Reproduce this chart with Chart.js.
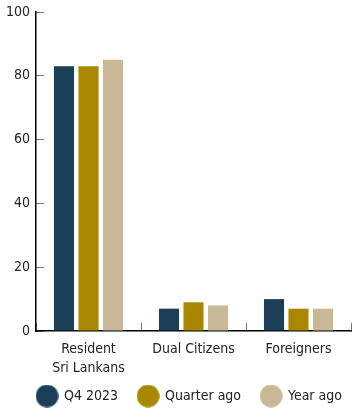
<!DOCTYPE html>
<html lang="en">
<head>
    <meta charset="UTF-8">
    <title>Residents by group</title>
    <script src="https://cdn.jsdelivr.net/npm/chart.js"></script>
    <style>
        html, body { margin: 0; padding: 0; background: #fff; }
        #wrap { width: 352px; height: 410px; }
    </style>
</head>
<body>
    <div id="wrap"><canvas id="groupChart" width="352" height="410"></canvas></div>
    <script>
        // Chart data
        const categories = [['Resident', 'Sri Lankans'], 'Dual Citizens', 'Foreigners'];
        const seriesNames = ['Q4 2023', 'Quarter ago', 'Year ago'];
        const q4Values = [83, 7, 10];
        const quarterAgoValues = [83, 9, 7];
        const yearAgoValues = [85, 8, 7];
        const yTicks = [0, 20, 40, 60, 80, 100];

        const colors = ['#1a3f56', '#a88800', '#c9b895'];
        const fontFamily = "'DejaVu Sans Condensed', 'DejaVu Sans', sans-serif";

        // round legend markers, a little bigger than the default ones
        function makeDot(color) {
            const c = document.createElement('canvas');
            c.width = 23;
            c.height = 23;
            const g = c.getContext('2d');
            g.fillStyle = color;
            g.beginPath();
            g.arc(11.5, 11.5, 11.3, 0, Math.PI * 2);
            g.fill();
            return c;
        }
        const legendDots = colors.map(makeDot);

        // move the legend a bit so it sits under the plot like the original
        const legendNudge = {
            id: 'legendNudge',
            afterLayout(chart) {
                const lg = chart.legend;
                lg.left += 14;
                lg.right += 14;
                lg.top -= 9;
                lg.bottom -= 9;
            }
        };

        const ctx = document.getElementById('groupChart').getContext('2d');

        new Chart(ctx, {
            type: 'bar',
            data: {
                labels: categories,
                datasets: [q4Values, quarterAgoValues, yearAgoValues].map((vals, i) => ({
                    label: seriesNames[i],
                    data: vals,
                    backgroundColor: colors[i],
                    borderWidth: 0,
                    categoryPercentage: 0.7,
                    barPercentage: 0.82
                }))
            },
            options: {
                responsive: false,
                animation: false,
                layout: {
                    padding: { top: 12, right: 1, left: 0, bottom: -12 }
                },
                plugins: {
                    tooltip: { enabled: false },
                    legend: {
                        position: 'bottom',
                        labels: {
                            usePointStyle: true,
                            pointStyleWidth: 20,
                            padding: 20,
                            color: '#222',
                            font: { family: fontFamily, size: 14 },
                            generateLabels: (chart) =>
                                Chart.defaults.plugins.legend.labels.generateLabels(chart)
                                    .map((item, i) => ({ ...item, pointStyle: legendDots[i] }))
                        }
                    }
                },
                scales: {
                    x: {
                        offset: true,
                        grid: {
                            offset: true,
                            drawOnChartArea: false,
                            tickLength: -8,
                            color: '#777'
                        },
                        border: { color: '#000', width: 1.5 },
                        ticks: {
                            color: '#222',
                            padding: 17,
                            font: { family: fontFamily, size: 14, lineHeight: 1.35 }
                        },
                        afterFit: (scale) => { scale.height = 47; }
                    },
                    y: {
                        min: 0,
                        max: 100,
                        afterBuildTicks: (scale) => {
                            scale.ticks = yTicks.map(v => ({ value: v }));
                        },
                        grid: {
                            drawOnChartArea: false,
                            tickLength: -8,
                            color: '#777'
                        },
                        border: { color: '#000', width: 1.5 },
                        ticks: {
                            color: '#222',
                            padding: 14,
                            font: { family: fontFamily, size: 14, lineHeight: 1.2 }
                        },
                        afterFit: (scale) => {
                            scale.width = 36;
                            scale.paddingTop = 0;
                            scale.paddingBottom = 0;
                        }
                    }
                }
            },
            plugins: [legendNudge]
        });
    </script>
</body>
</html>
